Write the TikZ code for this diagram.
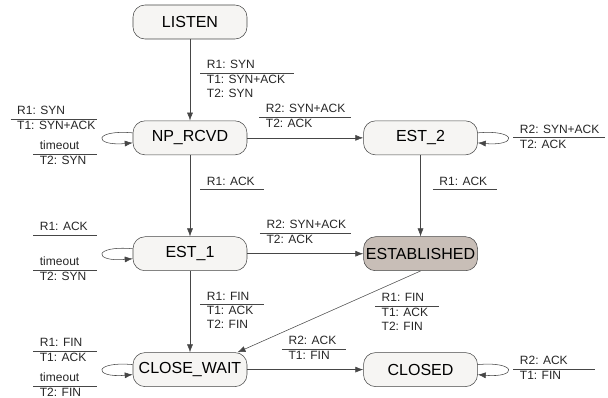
\documentclass[tikz,border=0pt]{standalone}
\usepackage{fontspec}
\setmainfont{Liberation Sans}
\usepackage{colortbl}
\usepackage{tikz}
\usetikzlibrary{arrows.meta,positioning}
\definecolor{edgegray}{RGB}{70,70,70}
\definecolor{statefill}{RGB}{246,245,243}
\definecolor{estfill}{RGB}{200,190,183}
\arrayrulecolor{edgegray}
\setlength{\arrayrulewidth}{0.6pt}
\newcommand{\trans}[3][43pt]{\begin{tabular}{@{\hspace{5pt}}p{#1}@{}}#2\\\hline #3\strut\end{tabular}}

\begin{document}
\begin{tikzpicture}[
  state/.style={draw=edgegray, fill=statefill, rounded corners=9pt, minimum width=85.5pt, minimum height=25.5pt, inner sep=1pt, font=\fontsize{12}{14}\selectfont},
  lbl/.style={inner sep=0pt, font=\fontsize{9}{10.5}\selectfont, text=black!85},
  arr/.style={draw=edgegray, -{Latex[length=6pt,width=4.5pt]}},
  selfloop/.style={arr, min distance=30pt}
]
\useasboundingbox (-142.5pt,16.5pt) rectangle (313.5pt,-282pt);

\node[state] (listen) {LISTEN};
\node[state, below=61pt of listen] (np) {NP\_RCVD};
\node[state, right=87pt of np] (est2) {EST\_2};
\node[state, below=61pt of np] (est1) {EST\_1};
\node[state, fill=estfill, right=87pt of est1] (estab) {ESTABLISHED};
\node[state, below=61pt of est1] (cw) {CLOSE\_WAIT};
\node[state, right=87pt of cw] (closed) {CLOSED};

\draw[arr] (listen) -- node[lbl, right=7.5pt] {\trans[65pt]{R1: SYN}{T1: SYN+ACK\\T2: SYN}} (np);
\draw[arr] (np) -- node[lbl, above=4.5pt] {\trans[64pt]{R2: SYN+ACK}{T2: ACK}} (est2);
\draw[arr] (np) -- node[lbl, right=7.5pt, yshift=4.5pt] {\trans{R1: ACK}{}} (est1);
\draw[arr] (est2) -- node[lbl, right=9pt, yshift=4.5pt] {\trans{R1: ACK}{}} (estab);
\draw[arr] (est1) -- node[lbl, above=4.5pt] {\trans[63pt]{R2: SYN+ACK}{T2: ACK}} (estab);
\draw[arr] (est1) -- node[lbl, right=7.5pt] {\trans{R1: FIN}{T1: ACK\\T2: FIN}} (cw);
\draw[arr] (estab.south) -- node[lbl, pos=0.25, anchor=north west] {\trans{R1: FIN}{T1: ACK\\T2: FIN}} (cw.20);
\draw[arr] (cw) -- node[lbl, above=4pt, xshift=6.5pt] {\trans{R2: ACK}{T1: FIN}} (closed);

\draw[selfloop] (np) to[out=175, in=185]
  node[lbl, anchor=south east, xshift=-4pt, yshift=3pt] {\trans[60pt]{R1: SYN}{T1: SYN+ACK}}
  node[lbl, anchor=north east, xshift=-4pt, yshift=-1.5pt] {\trans{timeout}{T2: SYN}} (np);
\draw[selfloop] (est1) to[out=175, in=185]
  node[lbl, anchor=south east, xshift=-4pt, yshift=3pt] {\trans{R1: ACK}{}}
  node[lbl, anchor=north east, xshift=-4pt, yshift=-1.5pt] {\trans{timeout}{T2: SYN}} (est1);
\draw[selfloop] (cw) to[out=175, in=185]
  node[lbl, anchor=south east, xshift=-4pt, yshift=3pt] {\trans{R1: FIN}{T1: ACK}}
  node[lbl, anchor=north east, xshift=-4pt, yshift=-1.5pt] {\trans{timeout}{T2: FIN}} (cw);
\draw[selfloop] (est2) to[out=5, in=-5]
  node[lbl, anchor=west, xshift=4pt] {\trans[64pt]{R2: SYN+ACK}{T2: ACK}} (est2);
\draw[selfloop] (closed) to[out=5, in=-5]
  node[lbl, anchor=west, xshift=4pt] {\trans[56pt]{R2: ACK}{T1: FIN}} (closed);
\end{tikzpicture}
\end{document}
